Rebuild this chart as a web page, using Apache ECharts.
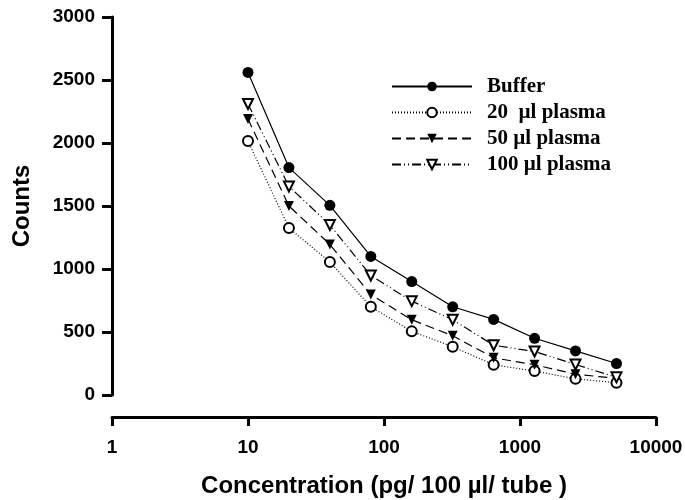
<!DOCTYPE html>
<html>
<head>
<meta charset="utf-8">
<script src="https://cdn.jsdelivr.net/npm/echarts@6/dist/echarts.min.js"></script>
<style>
    body{ margin:0; background:#fff; }
    #chart{ width:685px; height:500px; }
</style>
</head>
<body>
<div id="chart"></div>
<script>
    // concentrations (pg / 100 µl / tube)
    var conc = [10, 20, 40, 80, 160, 320, 640, 1280, 2560, 5120]
    var buffer = [2560, 1805, 1505, 1100, 900, 700, 600, 450, 350, 250]
    var plasma20 = [2015, 1325, 1055, 700, 505, 383, 240, 190, 128, 98]
    var plasma50 = [2190, 1500, 1195, 797, 597, 470, 295, 240, 165, 132]
    var plasma100 = [2310, 1655, 1350, 948, 745, 597, 395, 345, 242, 140]
    var names = ['Buffer', '20  µl plasma', '50 µl plasma', '100 µl plasma']

    function pairs(vals){
        var out = []
        for (var i = 0; i < conc.length; i++) out.push([conc[i], vals[i]])
        return out
    }

    var tickFont = { fontFamily: 'Liberation Sans', fontWeight: 'bold', fontSize: 19, color: '#000' }
    var titleFont = { fontFamily: 'Liberation Sans', fontWeight: 'bold', fontSize: 24, color: '#000' }

    var chart = echarts.init(document.getElementById('chart'))
    var option = {
        animation: false,
        grid: { left: 112, right: 29, top: 17, bottom: 105, outerBoundsMode: 'none', containLabel: false },
        legend: {
            left: 386, top: 71,
            orient: 'vertical',
            itemWidth: 80, itemHeight: 12, itemGap: 5,
            textStyle: { fontFamily: 'Liberation Serif', fontWeight: 'bold', fontSize: 21, lineHeight: 21, color: '#000', padding: [0, 0, 0, 10] },
            data: names
        },
        xAxis: {
            type: 'log', logBase: 10, min: 1, max: 10000,
            offset: 22,
            name: 'Concentration (pg/ 100 µl/ tube )',
            nameLocation: 'middle', nameGap: 57,
            nameTextStyle: titleFont,
            axisLine: { onZero: false, lineStyle: { color: '#000', width: 3 } },
            axisTick: { length: 9, lineStyle: { color: '#000', width: 3 } },
            minorTick: { show: false },
            splitLine: { show: false },
            axisLabel: Object.assign({ margin: 21, formatter: function (v) { return String(v) } }, tickFont)
        },
        yAxis: {
            type: 'value', min: 0, max: 3000, interval: 500,
            name: 'Counts',
            nameLocation: 'middle', nameGap: 78,
            nameTextStyle: titleFont,
            axisLine: { show: true, lineStyle: { color: '#000', width: 3 } },
            axisTick: { show: true, length: 10, lineStyle: { color: '#000', width: 3 } },
            splitLine: { show: false },
            axisLabel: Object.assign({ margin: 17, formatter: function (v) { return String(v) } }, tickFont)
        },
        series: [
            {
                name: names[0], type: 'line', data: pairs(buffer),
                symbol: 'circle', symbolSize: 11,
                lineStyle: { color: '#000', width: 1.2 },
                itemStyle: { color: '#000' }
            },
            {
                name: names[1], type: 'line', data: pairs(plasma20),
                symbol: 'emptyCircle', symbolSize: 10,
                lineStyle: { color: '#000', width: 1.2, type: [1, 2] },
                itemStyle: { color: '#000', borderWidth: 1 }
            },
            {
                name: names[2], type: 'line', data: pairs(plasma50),
                symbol: 'triangle', symbolSize: 10, symbolRotate: 180,
                lineStyle: { color: '#000', width: 1.2, type: [9, 5] },
                itemStyle: { color: '#000' }
            },
            {
                name: names[3], type: 'line', data: pairs(plasma100),
                symbol: 'emptyTriangle', symbolSize: 10, symbolRotate: 180,
                lineStyle: { color: '#000', width: 1.2, type: [9, 3, 1, 3, 1, 3] },
                itemStyle: { color: '#000', borderWidth: 1 }
            }
        ]
    }
    chart.setOption(option)
</script>
</body>
</html>
